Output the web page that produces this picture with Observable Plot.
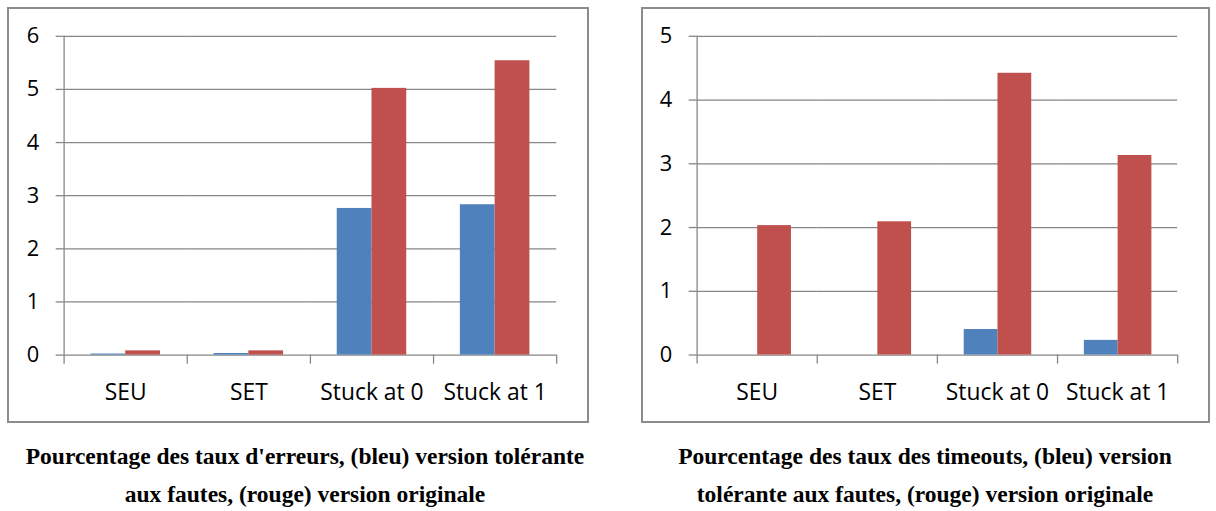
<!DOCTYPE html>
<html lang="fr">
<head>
<meta charset="utf-8">
<script src="https://cdn.jsdelivr.net/npm/d3@7"></script>
<script src="https://cdn.jsdelivr.net/npm/@observablehq/plot@0.6"></script>
<style>
  html, body { margin: 0; padding: 0; background: #fff; }
  body { position: relative; width: 1216px; height: 511px; overflow: hidden; }
  .box {
    position: absolute; top: 7px; height: 416px;
    border: 2px solid #8c8c8c; box-sizing: border-box; background: #fff;
  }
  .box svg { position: absolute; left: -2px; top: -2px; }
  .caption {
    position: absolute; top: 437px; width: 640px; text-align: center;
    font-family: "Liberation Serif", "Times New Roman", serif;
    font-weight: bold; font-size: 23.5px; line-height: 38px; color: #000;
  }
</style>
</head>
<body>
<div id="erreurs" class="box" style="left:7px; width:582px;"></div>
<div id="timeouts" class="box" style="left:641px; width:569px;"></div>
<div class="caption" style="left:-15px;">Pourcentage des taux d'erreurs, (bleu) version tolérante<br>aux fautes, (rouge) version originale</div>
<div class="caption" style="left:605px;">Pourcentage des taux des timeouts, (bleu) version<br>tolérante aux fautes, (rouge) version originale</div>
<script>
// Fault categories and the two versions compared
const categories = ["SEU", "SET", "Stuck at 0", "Stuck at 1"];
const versions = ["tolérante", "originale"];
const versionColors = ["#4f81bd", "#c0504d"];

// Error rates (%)
const erreursTolerante = [0.02, 0.03, 2.76, 2.83];
const erreursOriginale = [0.08, 0.08, 5.02, 5.54];
const erreursTicks = [0, 1, 2, 3, 4, 5, 6];

// Timeout rates (%)
const timeoutsTolerante = [0, 0, 0.40, 0.23];
const timeoutsOriginale = [2.03, 2.09, 4.42, 3.13];
const timeoutsTicks = [0, 1, 2, 3, 4, 5];

const axisGray = "#868686";

function rows(tolerante, originale) {
  return categories.flatMap((cat, i) => [
    {cat, version: versions[0], value: tolerante[i]},
    {cat, version: versions[1], value: originale[i]}
  ]);
}

function chart(data, ticks, width) {
  const height = 416, marginTop = 29, marginBottom = 66;
  const plotHeight = height - marginTop - marginBottom;
  return Plot.plot({
    width, height,
    marginLeft: 56, marginRight: 29, marginTop, marginBottom,
    style: {fontFamily: "'Open Sans', sans-serif", fontSize: "22px", color: "#000", background: "transparent", overflow: "visible"},
    fx: {domain: categories, padding: 0, label: null, axis: null},
    x: {domain: versions, paddingInner: 0, paddingOuter: 0.75, axis: null},
    y: {domain: [0, d3.max(ticks)], axis: null},
    color: {domain: versions, range: versionColors},
    marks: [
      Plot.gridY(ticks, {stroke: axisGray, strokeOpacity: 1, strokeWidth: 1.3}),
      Plot.barY(data, {fx: "cat", x: "version", y: "value", fill: "version"}),
      Plot.axisY(ticks, {tickSize: 8, tickPadding: 17, stroke: axisGray, strokeWidth: 1.3, fill: "#000", label: null, tickFormat: d3.format("d")}),
      // vertical value axis line, running down to the category ticks
      Plot.frame({anchor: "left", facetAnchor: "left", insetBottom: -8, stroke: axisGray, strokeWidth: 1.3}),
      // category boundary ticks below the baseline
      Plot.frame({anchor: "right", insetTop: plotHeight, insetBottom: -8, stroke: axisGray, strokeWidth: 1.3}),
      Plot.axisFx({anchor: "bottom", tickSize: 0, tickPadding: 29, fontSize: 23, label: null, fill: "#000"})
    ]
  });
}

document.getElementById("erreurs").append(chart(rows(erreursTolerante, erreursOriginale), erreursTicks, 582));
document.getElementById("timeouts").append(chart(rows(timeoutsTolerante, timeoutsOriginale), timeoutsTicks, 569));
</script>
</body>
</html>
